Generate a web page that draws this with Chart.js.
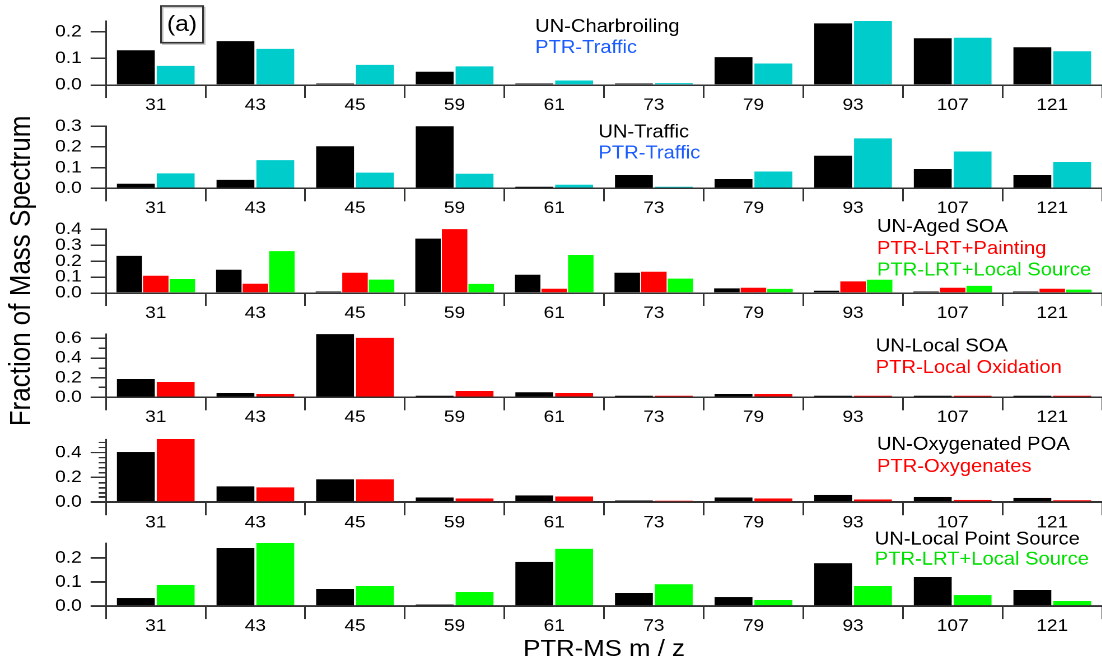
<!DOCTYPE html>
<html><head><meta charset="utf-8">
<script src="https://cdn.jsdelivr.net/npm/chart.js@4/dist/chart.umd.min.js"></script>
<style>
html,body{margin:0;padding:0;background:#fff;width:1102px;height:665px;overflow:hidden;}
#fig{position:absolute;left:0;top:0;width:984px;height:665px;transform:scaleX(1.12);transform-origin:0 0;}
.p{position:absolute;left:0;width:984px;}
#ytitle{position:absolute;width:340px;height:30px;line-height:30px;text-align:center;
  font-family:"Liberation Sans",Arial,sans-serif;font-size:26px;color:#000;
  left:-152px;top:256px;transform:rotate(-90deg);white-space:nowrap;}
</style></head>
<body>
<div id="fig">
  <div id="ytitle">Fraction of Mass Spectrum</div>
</div>
<script>
// ---------------- DATA ----------------
const categories = ['31','43','45','59','61','73','79','93','107','121'];

const unCharbroiling     = [0.131, 0.165, 0.003, 0.050, 0.003, 0.002, 0.105, 0.232, 0.176, 0.142];
const ptrTraffic         = [0.072, 0.136, 0.076, 0.070, 0.017, 0.007, 0.081, 0.241, 0.178, 0.127];
const unTraffic          = [0.022, 0.041, 0.203, 0.300, 0.006, 0.064, 0.045, 0.157, 0.093, 0.064];
const unAgedSOA          = [0.233, 0.146, 0.005, 0.341, 0.114, 0.127, 0.029, 0.014, 0.004, 0.004];
const ptrLrtPainting     = [0.108, 0.058, 0.127, 0.400, 0.027, 0.133, 0.033, 0.073, 0.033, 0.027];
const ptrLrtLocalSource  = [0.088, 0.262, 0.084, 0.057, 0.238, 0.090, 0.026, 0.083, 0.045, 0.021];
const unLocalSOA         = [0.186, 0.044, 0.644, 0.010, 0.051, 0.010, 0.034, 0.006, 0.007, 0.006];
const ptrLocalOxidation  = [0.156, 0.034, 0.606, 0.064, 0.044, 0.008, 0.034, 0.010, 0.006, 0.010];
const unOxygenatedPOA    = [0.405, 0.127, 0.184, 0.038, 0.054, 0.013, 0.038, 0.057, 0.041, 0.035];
const ptrOxygenates      = [0.508, 0.119, 0.184, 0.030, 0.046, 0.010, 0.030, 0.022, 0.019, 0.014];
const unLocalPointSource = [0.033, 0.241, 0.070, 0.003, 0.183, 0.055, 0.037, 0.178, 0.120, 0.066];

const seriesNames = {
  unCharbroiling:'UN-Charbroiling', ptrTraffic:'PTR-Traffic', unTraffic:'UN-Traffic',
  unAgedSOA:'UN-Aged SOA', ptrLrtPainting:'PTR-LRT+Painting', ptrLrtLocalSource:'PTR-LRT+Local Source',
  unLocalSOA:'UN-Local SOA', ptrLocalOxidation:'PTR-Local Oxidation',
  unOxygenatedPOA:'UN-Oxygenated POA', ptrOxygenates:'PTR-Oxygenates',
  unLocalPointSource:'UN-Local Point Source'
};
const xTitle = 'PTR-MS m / z';
const panelLabel = '(a)';

// ---------------- STYLE / LAYOUT ----------------
const FONT = '"Liberation Sans", Arial, sans-serif';
const C = {black:'#000000', cyan:'#00CCCC', red:'#FF0000', green:'#00FF00'};
const T = {black:'#000000', blue:'#1A5CFF', red:'#FF0000', green:'#00E000'};
const AX = '#333333';
const PAD_TOP = 21;

const panels = [
  {series:[[unCharbroiling,'unCharbroiling',C.black,T.black],[ptrTraffic,'ptrTraffic',C.cyan,T.blue]],
   yMax:0.241, step:0.1, minor:0, top:21, base:85, xh:30, legX:477.7, legY:[27,48]},
  {series:[[unTraffic,'unTraffic',C.black,T.black],[ptrTraffic,'ptrTraffic',C.cyan,T.blue]],
   yMax:0.301, step:0.1, minor:0, top:126, base:188.3, xh:30, legX:534.2, legY:[132.7,153.7]},
  {series:[[unAgedSOA,'unAgedSOA',C.black,T.black],[ptrLrtPainting,'ptrLrtPainting',C.red,T.red],[ptrLrtLocalSource,'ptrLrtLocalSource',C.green,T.green]],
   yMax:0.401, step:0.1, minor:0, top:229.3, base:293.3, xh:30, legX:783, legY:[227.3,249.3,270.7]},
  {series:[[unLocalSOA,'unLocalSOA',C.black,T.black],[ptrLocalOxidation,'ptrLocalOxidation',C.red,T.red]],
   yMax:0.645, step:0.2, minor:0.1, top:334, base:397.3, xh:30, legX:781.9, legY:[346.7,367.8]},
  {series:[[unOxygenatedPOA,'unOxygenatedPOA',C.black,T.black],[ptrOxygenates,'ptrOxygenates',C.red,T.red]],
   yMax:0.508, step:0.2, minor:0.04, top:439.3, base:501.7, xh:30, legX:783, legY:[445,466.7]},
  {series:[[unLocalPointSource,'unLocalPointSource',C.black,T.black],[ptrLrtLocalSource,'ptrLrtLocalSource',C.green,T.green]],
   yMax:0.262, step:0.1, minor:0, top:543.3, base:606, xh:59, legX:781, legY:[539.7,560], title:true},
];

const decor = {
  id:'decor',
  afterDraw(chart, args, o){
    const ctx = chart.ctx, ys = chart.scales.y;
    ctx.save();
    if (o.minor){
      ctx.strokeStyle = AX; ctx.lineWidth = 1.5;
      const n = Math.floor(ys.max / o.minor + 1e-6);
      for (let k=1;k<=n;k++){
        const v = k*o.minor;
        const r = v/o.step;
        if (Math.abs(r-Math.round(r))<1e-6) continue;
        const py = Math.round(ys.getPixelForValue(v))+0.25;
        ctx.beginPath(); ctx.moveTo(ys.right-6.5, py); ctx.lineTo(ys.right, py); ctx.stroke();
      }
    }
    ctx.font = '18px ' + FONT;
    ctx.textBaseline = 'middle'; ctx.textAlign = 'left';
    o.legend.forEach(L=>{ ctx.fillStyle = L.color; ctx.fillText(L.text, L.x, L.y); });
    if (o.label){
      ctx.strokeStyle = '#c8c8c8'; ctx.lineWidth = 1.5;
      ctx.strokeRect(145.3, 7.5, 37.5, 36.7);
      ctx.strokeStyle = AX; ctx.lineWidth = 1.6;
      ctx.strokeRect(143.8, 6, 37.5, 36.7);
      ctx.fillStyle = '#000'; ctx.font = '22px ' + FONT;
      ctx.textAlign = 'center'; ctx.textBaseline = 'middle';
      ctx.fillText(o.label, 162.5, 25);
    }
    ctx.restore();
  }
};

const fig = document.getElementById('fig');
panels.forEach((p, i) => {
  const top = p.top - PAD_TOP;
  const h = PAD_TOP + (p.base - p.top) + p.xh;
  const div = document.createElement('div');
  div.className = 'p';
  div.style.top = top + 'px';
  div.style.height = h + 'px';
  const cv = document.createElement('canvas');
  div.appendChild(cv);
  fig.appendChild(div);
  const nS = p.series.length;
  const datasets = p.series.map(s => ({
    label: seriesNames[s[1]], data: s[0], backgroundColor: s[2], borderWidth: 0,
    minBarLength: 1.5,
    categoryPercentage: 0.8, barPercentage: nS === 3 ? 0.96 : 0.95
  }));
  const legend = p.series.map((s, k) => ({text: seriesNames[s[1]], color: s[3], x: p.legX, y: p.legY[k] - top}));
  new Chart(cv, {
    type: 'bar',
    data: {labels: categories, datasets},
    plugins: [decor],
    options: {
      responsive: true, maintainAspectRatio: false, animation: false,
      devicePixelRatio: 2,
      layout: {padding: {top: PAD_TOP, left: 0, right: 0, bottom: 0}},
      plugins: {
        legend: {display: false}, tooltip: {enabled: false},
        decor: {legend, minor: p.minor, step: p.step, label: i === 0 ? panelLabel : null}
      },
      scales: {
        x: {
          offset: true,
          grid: {display: true, offset: true, drawOnChartArea: false, drawTicks: true,
                 tickLength: 13, color: AX, lineWidth: 1.5},
          border: {display: true, color: AX, width: 1.5},
          ticks: {color: '#000', font: {family: FONT, size: 17}, padding: -3, maxRotation: 0, autoSkip: false},
          title: p.title ? {display: true, text: xTitle, color: '#000',
                 font: {family: FONT, size: 23}, padding: {top: 0, bottom: 1.5}} : {display: false},
          afterFit: s => { s.height = p.xh; }
        },
        y: {
          min: 0, max: p.yMax,
          grid: {display: true, drawOnChartArea: false, drawTicks: true, tickLength: 13.7, color: AX, lineWidth: 1.5},
          border: {display: true, color: AX, width: 1.5},
          ticks: {stepSize: p.step, includeBounds: false, autoSkip: false, color: '#000',
                  font: {family: FONT, size: 17}, padding: 8,
                  callback: v => Number(v).toFixed(1)},
          afterFit: s => { s.width = 94.6; }
        }
      }
    }
  });
});
</script>
</body></html>
